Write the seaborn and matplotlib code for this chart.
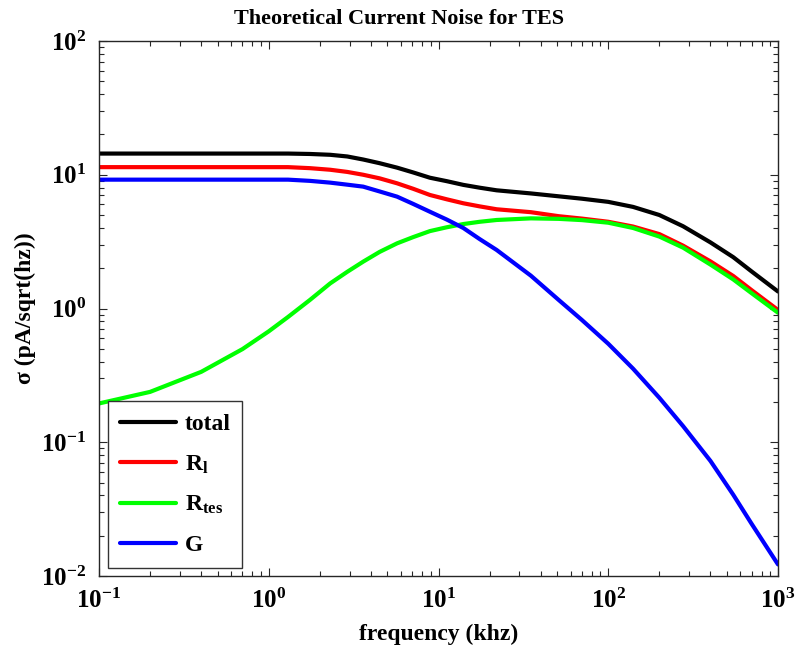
import matplotlib
matplotlib.use("Agg")
import matplotlib.pyplot as plt
import seaborn as sns
import pandas as pd

# ---- data (frequency in kHz, sigma in pA/sqrt(Hz)) ----
freq = [0.1, 0.2, 0.4, 0.7, 1.0, 1.3, 1.75, 2.3, 2.9, 3.6, 4.5, 5.7, 7.1, 8.9,
        11.2, 14, 17.5, 22, 35, 51, 70, 100, 140, 200, 276, 400, 545, 700, 1000]
total = [14.4, 14.4, 14.4, 14.4, 14.4, 14.4, 14.3, 14.1, 13.7, 13.0, 12.2, 11.3,
         10.4, 9.5, 8.95, 8.4, 8.0, 7.65, 7.25, 6.9, 6.62, 6.27, 5.75, 5.0,
         4.12, 3.12, 2.42, 1.89, 1.34]
r_l = [11.4, 11.4, 11.4, 11.4, 11.4, 11.4, 11.2, 10.9, 10.5, 10.0, 9.4, 8.63,
       7.85, 7.06, 6.55, 6.12, 5.8, 5.52, 5.25, 4.9, 4.7, 4.45, 4.1, 3.6,
       2.95, 2.25, 1.75, 1.37, 0.975]
r_tes = [0.195, 0.238, 0.336, 0.497, 0.675, 0.865, 1.16, 1.54, 1.88, 2.24, 2.65,
         3.07, 3.42, 3.79, 4.05, 4.28, 4.45, 4.59, 4.72, 4.68, 4.58, 4.38, 4.0,
         3.45, 2.85, 2.13, 1.65, 1.3, 0.93]
g = [9.19, 9.19, 9.19, 9.19, 9.19, 9.19, 9.0, 8.73, 8.43, 8.15, 7.5, 6.86, 6.05,
     5.29, 4.62, 4.0, 3.3, 2.74, 1.76, 1.16, 0.82, 0.545, 0.355, 0.215, 0.132,
     0.0725, 0.0405, 0.0245, 0.0122]

series_names = ["total", r"$\mathbf{R_l}$", r"$\mathbf{R_{tes}}$", "G"]
series_values = [total, r_l, r_tes, g]
series_colors = ["#000000", "#ff0000", "#00ff00", "#0000ff"]

title = "Theoretical Current Noise for TES"
xlabel = "frequency (khz)"
ylabel = "σ (pA/sqrt(hz))"

# ---- style ----
sns.set_style("white")
plt.rcParams["font.family"] = ["Liberation Serif", "DejaVu Serif"]
plt.rcParams["font.weight"] = "bold"
plt.rcParams["mathtext.fontset"] = "custom"
plt.rcParams["mathtext.rm"] = "Liberation Serif:bold"
plt.rcParams["mathtext.bf"] = "Liberation Serif:bold"
plt.rcParams["mathtext.it"] = "Liberation Serif:bold"
plt.rcParams["axes.labelweight"] = "bold"
plt.rcParams["axes.titleweight"] = "bold"
plt.rcParams["text.color"] = "black"
plt.rcParams["axes.labelcolor"] = "black"
plt.rcParams["xtick.color"] = "black"
plt.rcParams["ytick.color"] = "black"

frames = []
for name, vals in zip(series_names, series_values):
    frames.append(pd.DataFrame({"freq": freq, "sigma": vals, "series": name}))
df = pd.concat(frames, ignore_index=True)

fig = plt.figure(figsize=(7.99, 6.52), dpi=100)
ax = fig.add_axes([99 / 799, 1 - 576 / 652, (778 - 99) / 799, (576 - 41) / 652])

sns.lineplot(data=df, x="freq", y="sigma", hue="series", hue_order=series_names,
             palette=dict(zip(series_names, series_colors)), linewidth=3.0,
             ax=ax, legend=True, sort=False, estimator=None)

ax.set_xscale("log")
ax.set_yscale("log")
ax.set_xlim(0.1, 1000)
ax.set_ylim(0.01, 100)

ax.set_title(title, fontsize=16, fontweight="bold", pad=12, x=0.442, color="black")
ax.set_xlabel(xlabel, fontsize=17, fontweight="bold", labelpad=8)
ax.set_ylabel(ylabel, fontsize=17, fontweight="bold", labelpad=4)

for side in ["left", "right", "top", "bottom"]:
    ax.spines[side].set_visible(True)
    ax.spines[side].set_color("#262626")
    ax.spines[side].set_linewidth(1.0)

ax.tick_params(which="both", direction="in", top=True, right=True,
               bottom=True, left=True, colors="#262626", labelcolor="black")
ax.tick_params(which="major", length=6, width=0.8, labelsize=18, pad=9)
ax.tick_params(which="minor", length=3.5, width=0.8)
for lab in ax.get_xticklabels() + ax.get_yticklabels():
    lab.set_fontweight("bold")

handles, labels = ax.get_legend_handles_labels()
leg = ax.legend(handles, labels, loc="lower left", bbox_to_anchor=(0.013, 0.015),
                borderaxespad=0, frameon=True, fancybox=False, framealpha=1,
                edgecolor="#333333", handlelength=2.4, handletextpad=0.35,
                labelspacing=0.78, borderpad=0.5,
                prop={"weight": "bold", "size": 17, "family": "Liberation Serif"})
leg.get_frame().set_linewidth(1.0)
for line in leg.get_lines():
    line.set_linewidth(3.0)
for t in leg.get_texts():
    t.set_color("black")

fig.savefig("out.png", dpi=100)
